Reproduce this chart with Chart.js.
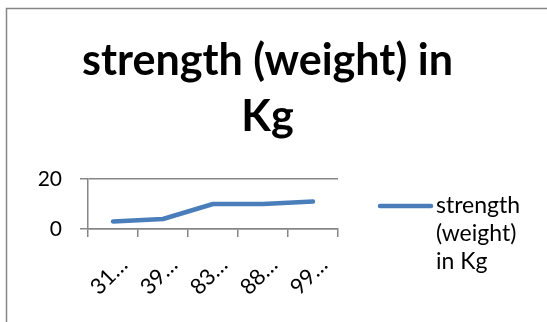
<!DOCTYPE html>
<html>
<head>
<meta charset="utf-8">
<script src="https://cdn.jsdelivr.net/npm/chart.js@4"></script>
<style>
  html, body { margin: 0; padding: 0; background: #ffffff; }
  #wrap { width: 547px; height: 322px; }
</style>
</head>
<body>
<div id="wrap"><canvas id="c" width="547" height="322"></canvas></div>
<script>
// Series data
const categories = ['31…', '39…', '83…', '88…', '99…'];
const strengthKg = [3, 4, 10, 10, 11];
const yTickValues = [0, 20];
const seriesName = 'strength (weight) in Kg';
const titleLines = ['strength (weight) in', 'Kg'];
const legendLines = ['strength', '(weight)', 'in Kg'];

const FONT = 'Lato, "Noto Sans", sans-serif';
const LINE_COLOR = '#4a7ebb';
const AXIS_COLOR = '#868686';

// Outer frame, title and a multi-line legend drawn on the canvas
const decorations = {
  id: 'decorations',
  beforeDraw(chart) {
    const ctx = chart.ctx;
    ctx.save();
    ctx.fillStyle = '#ffffff';
    ctx.fillRect(0, 0, chart.width, chart.height);
    ctx.strokeStyle = AXIS_COLOR;
    ctx.lineWidth = 1.5;
    ctx.strokeRect(6.5, 8.5, chart.width + 20, chart.height + 20);
    ctx.restore();
  },
  afterDraw(chart) {
    const ctx = chart.ctx;
    ctx.save();
    // Title, sized so the first line spans the header width
    let size = 40;
    ctx.font = `bold ${size}px ${FONT}`;
    const w = ctx.measureText(titleLines[0]).width;
    size = size * 371 / w;
    ctx.font = `bold ${size}px ${FONT}`;
    ctx.fillStyle = '#000000';
    ctx.textAlign = 'center';
    ctx.textBaseline = 'alphabetic';
    ctx.fillText(titleLines[0], 267.5, 75);
    ctx.fillText(titleLines[1], 267.5, 131);

    // Legend
    const ds = chart.data.datasets[0];
    ctx.strokeStyle = ds.borderColor;
    ctx.lineWidth = ds.borderWidth;
    ctx.lineCap = 'round';
    ctx.beginPath();
    ctx.moveTo(380, 206);
    ctx.lineTo(431, 206);
    ctx.stroke();
    ctx.font = `23px ${FONT}`;
    ctx.textAlign = 'left';
    legendLines.forEach((t, i) => ctx.fillText(t, 436, 213 + i * 28));
    ctx.restore();
  }
};

new Chart(document.getElementById('c'), {
  type: 'line',
  data: {
    labels: categories,
    datasets: [{
      label: seriesName,
      data: strengthKg,
      borderColor: LINE_COLOR,
      backgroundColor: LINE_COLOR,
      borderWidth: 4.5,
      borderCapStyle: 'round',
      borderJoinStyle: 'round',
      pointRadius: 0,
      tension: 0,
      fill: false
    }]
  },
  options: {
    responsive: false,
    animation: false,
    devicePixelRatio: 1,
    layout: { padding: { left: 0, top: 179, right: 209, bottom: 0 } },
    plugins: {
      legend: { display: false },
      title: { display: false },
      tooltip: { enabled: false }
    },
    scales: {
      x: {
        type: 'category',
        offset: true,
        grid: { offset: true, drawOnChartArea: false, tickLength: 8, color: AXIS_COLOR, lineWidth: 1.5 },
        border: { color: AXIS_COLOR, width: 1.5 },
        ticks: { maxRotation: 45, minRotation: 45, autoSkip: false, color: '#000000', font: { family: FONT, size: 22 }, padding: 15, labelOffset: 11 },
        afterFit(s) { s.height = 93; }
      },
      y: {
        min: 0,
        max: 20,
        afterBuildTicks(s) { s.ticks = yTickValues.map(v => ({ value: v })); },
        grid: { color: AXIS_COLOR, tickLength: 8, lineWidth: 1.5 },
        border: { color: AXIS_COLOR, width: 1.5 },
        ticks: { color: '#000000', font: { family: FONT, size: 21 }, padding: 18 },
        afterFit(s) { s.width = 88; }
      }
    }
  },
  plugins: [decorations]
});
</script>
</body>
</html>
